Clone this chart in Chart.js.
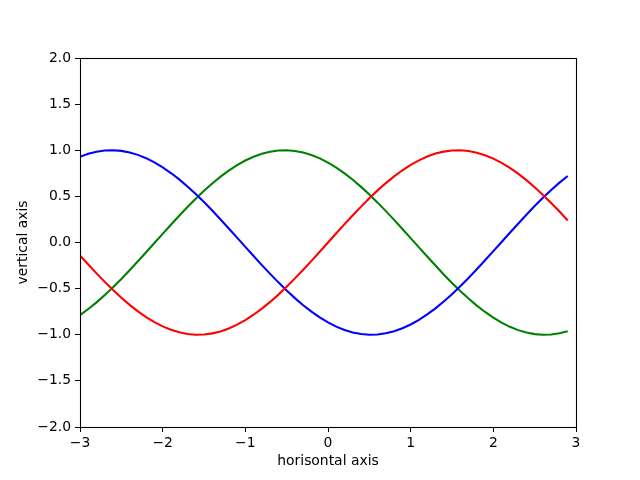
<!DOCTYPE html>
<html>
<head>
<meta charset="utf-8">
<script src="https://cdn.jsdelivr.net/npm/chart.js@4"></script>
<style>
html,body{margin:0;padding:0;background:#fff;}
#wrap{width:640px;height:480px;}
</style>
</head>
<body>
<div id="wrap"><canvas id="c" width="640" height="480"></canvas></div>
<script>
const xValues = [-3.0,-2.9,-2.8,-2.7,-2.6,-2.5,-2.4,-2.3,-2.2,-2.1,-2.0,-1.9,-1.8,-1.7,-1.6,-1.5,-1.4,-1.3,-1.2,-1.1,-1.0,-0.9,-0.8,-0.7,-0.6,-0.5,-0.4,-0.3,-0.2,-0.1,0.0,0.1,0.2,0.3,0.4,0.5,0.6,0.7,0.8,0.9,1.0,1.1,1.2,1.3,1.4,1.5,1.6,1.7,1.8,1.9,2.0,2.1,2.2,2.3,2.4,2.5,2.6,2.7,2.8,2.9];
const redValues = [-0.141,-0.239,-0.335,-0.427,-0.516,-0.598,-0.676,-0.746,-0.809,-0.863,-0.909,-0.946,-0.974,-0.992,-1.000,-0.997,-0.985,-0.964,-0.932,-0.891,-0.841,-0.783,-0.717,-0.644,-0.565,-0.479,-0.389,-0.296,-0.199,-0.100,0.000,0.100,0.199,0.296,0.389,0.479,0.565,0.644,0.717,0.783,0.841,0.891,0.932,0.964,0.985,0.997,1.000,0.992,0.974,0.946,0.909,0.863,0.809,0.746,0.676,0.598,0.516,0.427,0.335,0.239];
const greenValues = [-0.787,-0.721,-0.649,-0.569,-0.484,-0.395,-0.301,-0.204,-0.105,-0.006,0.094,0.193,0.290,0.384,0.475,0.560,0.640,0.714,0.780,0.838,0.889,0.930,0.962,0.984,0.997,1.000,0.992,0.975,0.948,0.912,0.866,0.812,0.750,0.680,0.603,0.520,0.432,0.340,0.245,0.147,0.047,-0.053,-0.152,-0.250,-0.346,-0.438,-0.525,-0.607,-0.684,-0.753,-0.815,-0.869,-0.914,-0.950,-0.976,-0.993,-1.000,-0.997,-0.984,-0.961];
const blueValues = [0.928,0.961,0.984,0.997,1.000,0.993,0.976,0.950,0.914,0.869,0.815,0.753,0.684,0.607,0.525,0.438,0.346,0.250,0.152,0.053,-0.047,-0.147,-0.245,-0.340,-0.432,-0.520,-0.603,-0.680,-0.750,-0.812,-0.866,-0.912,-0.948,-0.975,-0.992,-1.000,-0.997,-0.984,-0.962,-0.930,-0.889,-0.838,-0.780,-0.714,-0.640,-0.560,-0.475,-0.384,-0.290,-0.193,-0.094,0.006,0.105,0.204,0.301,0.395,0.484,0.569,0.649,0.721];
const xTickValues = [-3,-2,-1,0,1,2,3];
const yTickValues = [-2.0,-1.5,-1.0,-0.5,0.0,0.5,1.0,1.5,2.0];
const xTitle = 'horisontal axis';
const yTitle = 'vertical axis';

const pts = ys => xValues.map((x, i) => ({x: x, y: ys[i]}));
const fmt = (v, d) => v.toFixed(d).replace('-', '\u2212');
const FONT = {family: 'DejaVu Sans', size: 13.9};

const framePlugin = {
  id: 'frame',
  afterDraw(chart) {
    const a = chart.chartArea, ctx = chart.ctx;
    ctx.save();
    ctx.strokeStyle = '#000';
    ctx.lineWidth = 1.1;
    ctx.strokeRect(Math.round(a.left) + 0.5, Math.round(a.top) + 0.5, Math.round(a.right - a.left), Math.round(a.bottom - a.top));
    ctx.restore();
  }
};

new Chart(document.getElementById('c'), {
  type: 'line',
  data: {
    datasets: [
      {data: pts(redValues), borderColor: '#ff0000', borderWidth: 2.08, pointRadius: 0, tension: 0, fill: false},
      {data: pts(blueValues), borderColor: '#0000ff', borderWidth: 2.08, pointRadius: 0, tension: 0, fill: false},
      {data: pts(greenValues), borderColor: '#008000', borderWidth: 2.08, pointRadius: 0, tension: 0, fill: false}
    ]
  },
  options: {
    responsive: false,
    animation: false,
    devicePixelRatio: 1,
    layout: {padding: {top: 58, right: 64, left: 0, bottom: 0}},
    plugins: {legend: {display: false}, tooltip: {enabled: false}},
    scales: {
      x: {
        type: 'linear', min: -3, max: 3,
        afterBuildTicks: s => { s.ticks = xTickValues.map(v => ({value: v})); },
        afterFit: s => { s.height = 53; },
        grid: {display: true, drawOnChartArea: false, drawTicks: true, tickLength: 5, color: '#000', lineWidth: 1},
        border: {display: false},
        ticks: {color: '#000', font: FONT, padding: 3, maxRotation: 0, autoSkip: false, callback: v => fmt(v, 0)},
        title: {display: true, text: xTitle, color: '#000', font: FONT, padding: {top: 0, bottom: 10}}
      },
      y: {
        type: 'linear', min: -2, max: 2,
        afterBuildTicks: s => { s.ticks = yTickValues.map(v => ({value: v})); },
        afterFit: s => { s.width = 80; },
        grid: {display: true, drawOnChartArea: false, drawTicks: true, tickLength: 5, color: '#000', lineWidth: 1},
        border: {display: false},
        ticks: {color: '#000', font: FONT, padding: 4, autoSkip: false, callback: v => fmt(v, 1)},
        title: {display: true, text: yTitle, color: '#000', font: FONT, padding: {top: 15, bottom: 0}}
      }
    }
  },
  plugins: [framePlugin]
});
</script>
</body>
</html>
